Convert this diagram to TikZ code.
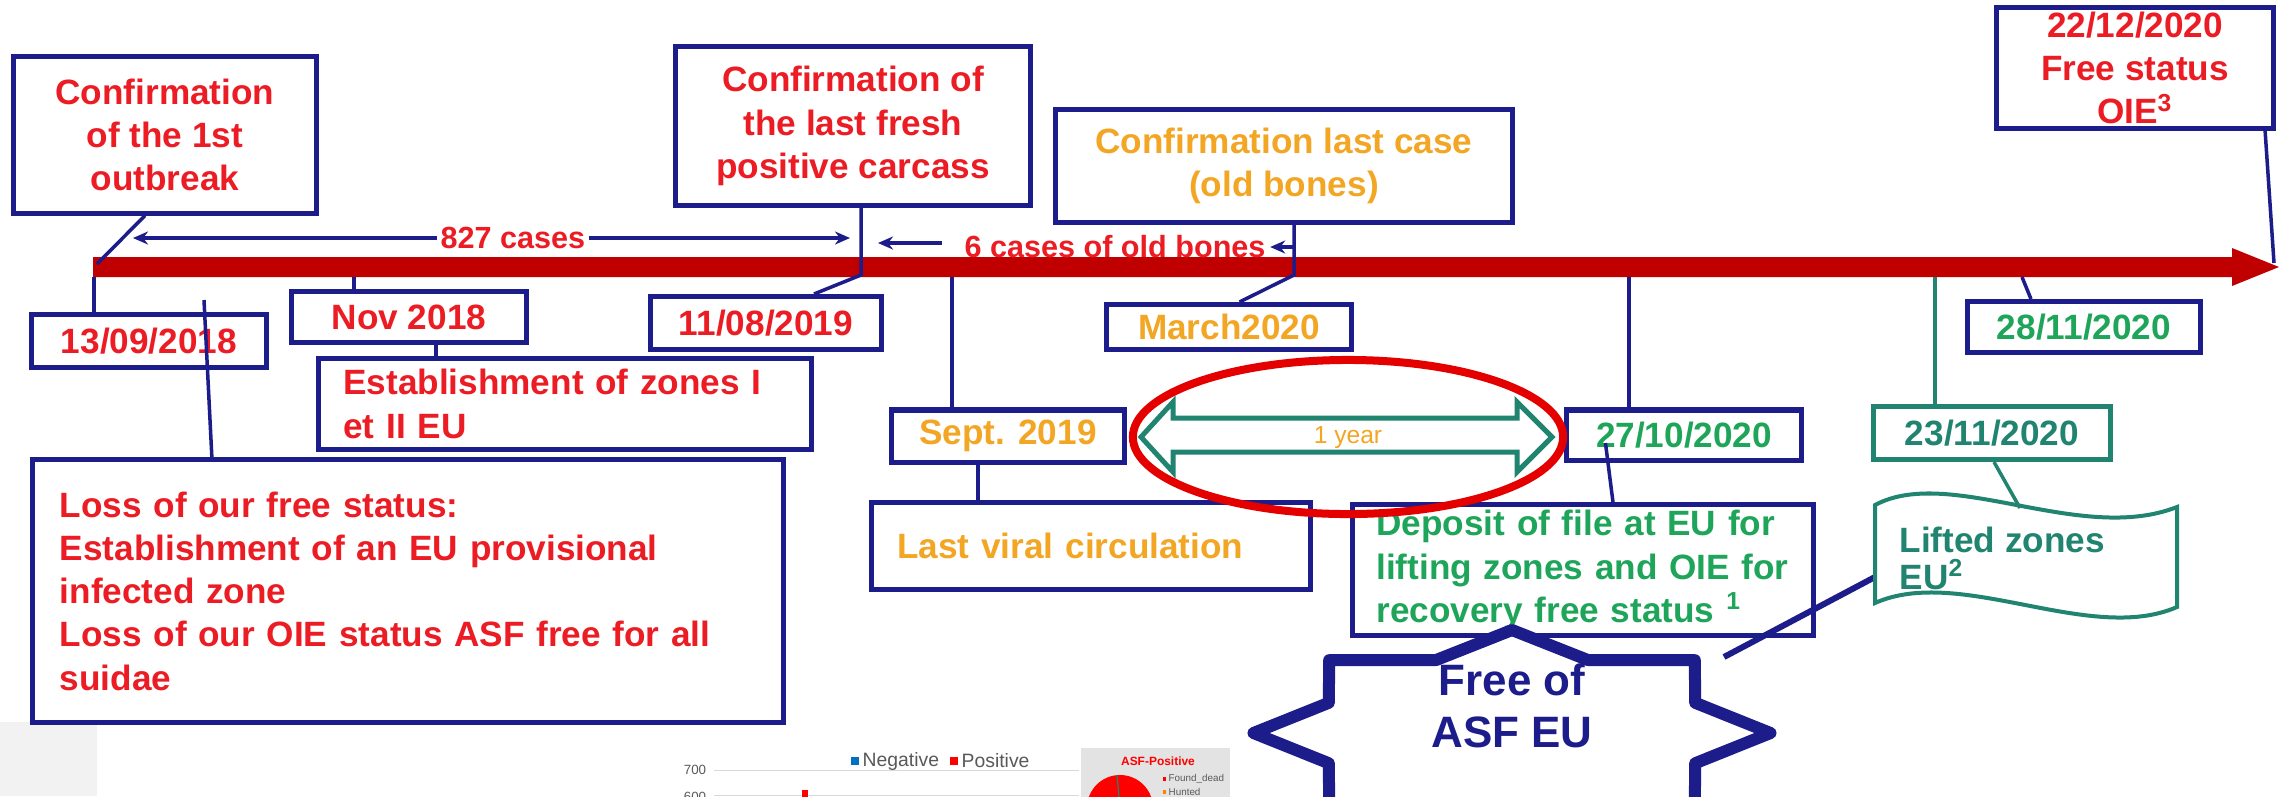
\documentclass[tikz,border=0pt]{standalone}
\usepackage{fontspec}
\setmainfont{Liberation Sans}
\usepackage{tikz}
\usetikzlibrary{positioning,arrows.meta}
\definecolor{asfNavy}{RGB}{28,28,138}
\definecolor{asfRed}{RGB}{236,28,36}
\definecolor{asfBar}{RGB}{192,0,0}
\definecolor{asfOrange}{RGB}{242,166,36}
\definecolor{asfGreen}{RGB}{30,165,90}
\definecolor{asfTeal}{RGB}{32,132,112}
\definecolor{asfBlue}{RGB}{0,112,192}
\definecolor{asfGrey}{RGB}{89,89,89}
\newcommand{\lblfont}{\fontsize{10}{12.3}\selectfont\bfseries}

\begin{document}
\begin{tikzpicture}[x=0.01cm, y=-0.01cm,
    box/.style={draw=asfNavy, line width=0.05cm, fill=white, inner sep=0pt, align=center, font=\lblfont},
    link/.style={draw=asfNavy, line width=0.035cm},
    tip/.style={-{Stealth[length=0.15cm,width=0.13cm]}},
    span/.style={link, {Stealth[length=0.15cm,width=0.13cm]}-{Stealth[length=0.15cm,width=0.13cm]}},
    cnt/.style={text=asfRed, font=\fontsize{8.7}{10}\selectfont\bfseries, inner sep=0.04cm},
    chart/.style={text=asfGrey, inner sep=0pt}]
    \useasboundingbox (0,0) rectangle (2290,796);
    \fill[white] (0,0) rectangle (2290,796);
    \fill[gray!10] (0,722) rectangle (97,796);

    % chart peeking in at the bottom
    \draw[gray!30, line width=0.01cm] (714,770) -- (1079,770);
    \draw[gray!30, line width=0.01cm] (714,795) -- (1079,795);
    \node[chart, font=\fontsize{3.8}{4}\selectfont] (ax700) at (695,770) {700};
    \node[chart, font=\fontsize{3.8}{4}\selectfont] (ax600) at (695,797) {600};
    \fill[asfBlue] (851,757) rectangle (859,765);
    \node[chart, anchor=west, font=\fontsize{5.5}{6}\selectfont] (negLbl) at (862,761) {Negative};
    \fill[red] (950,757) rectangle (958,765);
    \node[chart, anchor=west, font=\fontsize{5.5}{6}\selectfont] (posLbl) at (961,761) {Positive};
    \fill[red] (802,790) rectangle (808,800);
    \fill[gray!22] (1081,748) rectangle (1230,800);
    \node[text=red, font=\fontsize{3.4}{4}\selectfont\bfseries, inner sep=0pt] (pieTtl) at (1158,761) {ASF-Positive};
    \fill[red] (1120,808) circle [radius=0.33cm];
    \draw[asfTeal, line width=0.012cm] (1120,808) -- (1117,775);
    \fill[red] (1163,777) rectangle (1166,781);
    \node[chart, anchor=west, font=\fontsize{2.8}{3}\selectfont] (deadLbl) at (1168,779) {Found\_dead};
    \fill[orange] (1163,790) rectangle (1166,794);
    \node[chart, anchor=west, font=\fontsize{2.8}{3}\selectfont] (huntLbl) at (1168,792) {Hunted};

    % time line
    \fill[asfBar] (93,257) -- (2232,257) -- (2232,248) -- (2279,267) -- (2232,286) -- (2232,277) -- (93,277) -- cycle;
    \coordinate (k0) at (97,264);
    \coordinate (k1309) at (94,277);
    \coordinate (kNov) at (354,277);
    \coordinate (kSep) at (952,277);
    \coordinate (kFresh) at (861,275);
    \coordinate (kOld) at (1294,275);
    \coordinate (k2710) at (1629,277);
    \coordinate (k2311) at (1935,277);
    \coordinate (k2811) at (2022,277);
    \coordinate (kEnd) at (2274,263);

    % boxes
    \node[box, minimum width=3.02cm, minimum height=1.56cm, text=asfRed] (conf1) at (165,135) {Confirmation\\of the 1st\\outbreak};
    \node[box, minimum width=2.34cm, minimum height=0.53cm, text=asfRed] (d1309) at (149,341) {13/09/2018};
    \node[box, minimum width=2.34cm, minimum height=0.51cm, text=asfRed] (nov18) at (409,317) {Nov 2018};
    \node[box, minimum height=0.91cm, text width=4.43cm, inner xsep=0.25cm, align=left, text=asfRed] (zones) at (565,404) {Establishment of zones I\\et II EU};
    \node[box, minimum height=2.62cm, text width=6.96cm, inner xsep=0.27cm, align=left, text=asfRed] (loss) at (408,591) {Loss of our free status:\\Establishment of an EU provisional\\infected zone\\Loss of our OIE status ASF free for all\\suidae};
    \node[box, minimum width=3.55cm, minimum height=1.58cm, text=asfRed] (fresh) at (853,126) {Confirmation of\\the last fresh\\positive carcass};
    \node[box, minimum width=2.30cm, minimum height=0.53cm, text=asfRed] (d1108) at (766,323) {11/08/2019};
    \node[box, minimum width=4.56cm, minimum height=1.12cm, text=asfOrange] (oldcase) at (1284,166) {Confirmation last case\\(old bones)};
    \node[box, minimum width=2.45cm, minimum height=0.45cm, text=asfOrange] (mar20) at (1229,327) {March2020};
    \node[box, minimum width=2.32cm, minimum height=0.52cm, text=asfOrange] (sep19) at (1008,436) {Sept. 2019};
    \node[box, minimum height=0.87cm, text width=3.87cm, inner xsep=0.26cm, align=left, text=asfOrange] (viral) at (1091,546) {Last viral circulation};
    \node[box, minimum width=2.35cm, minimum height=0.50cm, text=asfGreen] (d2710) at (1684,435) {27/10/2020};
    \node[box, minimum height=1.30cm, text width=4.13cm, inner xsep=0.24cm, align=left, text=asfGreen] (deposit) at (1583,570) {Deposit of file at EU for\\lifting zones and OIE for\\recovery free status \textsuperscript{1}};
    \node[box, draw=asfTeal, minimum width=2.36cm, minimum height=0.53cm, text=asfTeal] (d2311) at (1992,433) {23/11/2020};
    \node[box, minimum width=2.33cm, minimum height=0.51cm, text=asfGreen] (d2811) at (2084,327) {28/11/2020};
    \node[box, minimum width=2.77cm, minimum height=1.20cm, text=asfRed] (oie) at (2135,68) {22/12/2020\\Free status\\OIE\textsuperscript{3}};

    % connectors
    \draw[link] (k1309) -- (k1309 |- d1309.north);
    \draw[link] (k0) -- ([xshift=-0.2cm]conf1.south);
    \draw[link] (kNov) -- (kNov |- nov18.north);
    \draw[link] ([xshift=0.27cm]nov18.south) -- ([xshift=0.27cm]nov18.south |- zones.north);
    \draw[link] (kFresh |- fresh.south) -- (kFresh) -- ([xshift=0.48cm]d1108.north);
    \draw[link] (kOld |- oldcase.south) -- (kOld) -- ([xshift=0.105cm]mar20.north);
    \draw[link] (kSep) -- (kSep |- sep19.north);
    \draw[link] ([xshift=-0.3cm]sep19.south) -- ([xshift=-0.3cm]sep19.south |- viral.north);
    \draw[link] (k2710) -- (k2710 |- d2710.north);
    \draw[link, draw=asfTeal] (k2311) -- (k2311 |- d2311.north);
    \draw[link] (k2811) -- ([xshift=-0.53cm]d2811.north);
    \draw[link] ([xshift=1.3cm]oie.south) -- (kEnd);
    \coordinate (p1309) at (204,300);
    \draw[link] ([xshift=-1.96cm]loss.north) -- (p1309);
    \draw[link] ([xshift=0.3cm]deposit.north) -- ([xshift=-0.785cm,yshift=-0.08cm]d2710.center);

    % case counts
    \coordinate (c827a) at (133,238);
    \coordinate (c827b) at (850,238);
    \draw[span] (c827a) -- node[cnt, pos=0.53, fill=white] (lab827) {827 cases} (c827b);
    \coordinate (c6a) at (942,243);
    \coordinate (c6b) at (878,243);
    \draw[link, tip] (c6a) -- (c6b);
    \node[cnt] (lab6) at (1115,247) {6 cases of old bones};
    \draw[link, tip] (kOld |- lab6) -- (lab6.east);

    % one year
    \draw[asfTeal, line width=0.05cm, fill=white, line join=miter] (1141,437) -- (1173,402) -- (1173,418) -- (1517,418) -- (1517,402) -- (1552,437) -- (1517,472) -- (1517,452) -- (1173,452) -- (1173,472) -- cycle;
    \node[text=asfOrange, font=\fontsize{7}{8}\selectfont, inner sep=0pt] (year) at (1348,438) {1 year};
    \draw[red!90!black, line width=0.08cm] (1348,437) ellipse [x radius=2.15cm, y radius=0.77cm];

    % star
    \begin{scope}[shift={(1512,733)}, xscale=2.51]
      \draw[asfNavy, line width=0.12cm, fill=white, line join=round] (0:103)
        \foreach \a/\r in {22.5/79,45/103,67.5/79,90/103,112.5/79,135/103,157.5/79,180/103,202.5/79,225/103,247.5/79,270/103,292.5/79,315/103,337.5/79} { -- (\a:\r) } -- cycle;
    \end{scope}
    \node[text=asfNavy, font=\fontsize{12.5}{14.8}\selectfont\bfseries, align=center] (freeEU) at (1512,706) {Free of\\ASF EU};

    % lifted zones banner
    \coordinate (banTop) at (2020,508);
    \coordinate (banLeft) at (1875,577);
    \coordinate (starNE) at (1724,657);
    \draw[asfNavy, line width=0.06cm] (starNE) -- (banLeft);
    \draw[asfTeal, line width=0.04cm, fill=white] (1875,505) .. controls (1950,465) and (2080,545) .. (2177,507) -- (2177,607) .. controls (2090,645) and (1960,565) .. (1875,603) -- cycle;
    \node[anchor=west, align=left, font=\fontsize{10}{10.5}\selectfont\bfseries, text=asfTeal, inner sep=0pt] (lifted) at (1899,558) {Lifted zones\\EU\textsuperscript{2}};
    \draw[link, draw=asfTeal] ([xshift=0.02cm]d2311.south) -- (banTop);
\end{tikzpicture}
\end{document}
